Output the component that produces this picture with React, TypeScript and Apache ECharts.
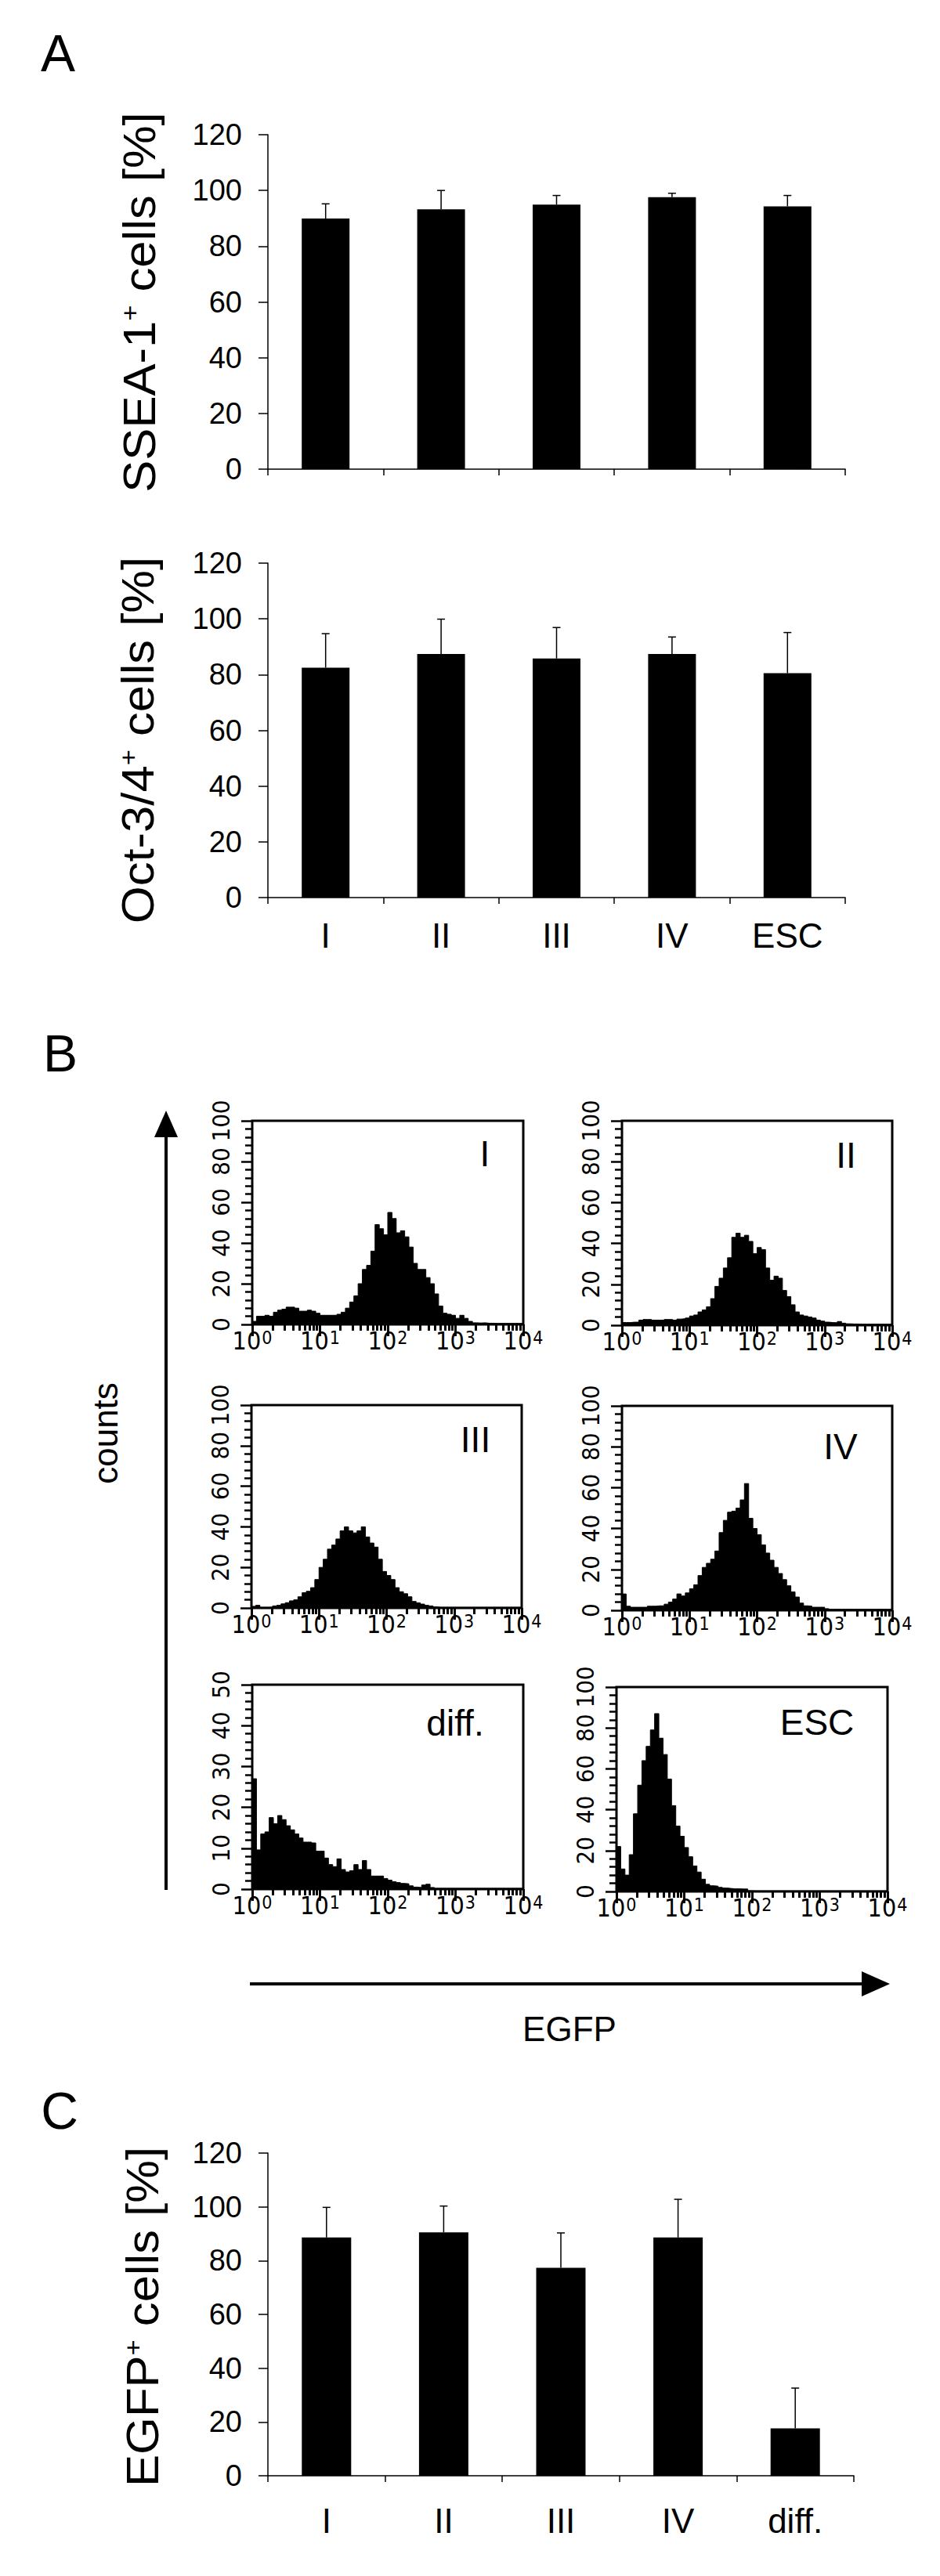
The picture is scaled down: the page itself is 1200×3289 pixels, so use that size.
import React, { useEffect, useRef } from "react";
import * as echarts from "echarts";

// ---------------- data ----------------
const catsA = ["I", "II", "III", "IV", "ESC"];
const ssea1Mean = [89.9, 93.2, 94.9, 97.6, 94.3];
const ssea1Err = [5.3, 6.8, 3.3, 1.4, 3.9];
const oct34Mean = [82.5, 87.4, 85.8, 87.4, 80.5];
const oct34Err = [12.2, 12.5, 11.1, 6.1, 14.6];

const catsC = ["I", "II", "III", "IV", "diff."];
const egfpMean = [88.6, 90.5, 77.3, 88.6, 17.6];
const egfpErr = [11.2, 9.8, 13.0, 14.2, 15.0];

// FACS histograms: 64 bins spanning 10^0 .. 10^4 (16 bins per decade)
const histI = [
  1.5, 4, 4, 4.5, 4, 6, 7, 7.5, 8.5, 8.5, 8, 6.5, 6.5, 7, 6.5, 5.5,
  4.5, 4.5, 4.5, 4.5, 5, 6, 8, 11, 14, 20, 27, 29, 36, 49, 47, 44,
  55, 52, 45, 46, 43, 38, 30, 27, 27, 23, 20, 15, 9, 5.5, 5, 4.5,
  3, 4.5, 3, 1.5, 0.8, 0.7, 0.8, 0.6, 0.6, 0.5, 0.5, 0.5, 0.5, 0.5, 0.5, 0.5,
];
const histII = [
  1.3, 1.3, 1.5, 1.5, 2.5, 2.8, 2.8, 2.5, 2.5, 2.5, 2.8, 2.8, 2.5, 3, 3.2, 3.5,
  4.5, 5, 6.5, 7.5, 9, 13, 19, 23, 28, 33, 43, 45, 43, 44, 41, 35,
  38, 37, 28, 22, 24, 23, 17, 14, 10, 6.5, 5, 4.5, 4, 3.5, 2.5, 2,
  1.5, 1.3, 1.2, 1.8, 1, 0.7, 0.6, 0.6, 0.5, 0.5, 0.5, 0.5, 0.5, 0.5, 0.5, 0.5,
];
const histIII = [
  0.8, 1.3, 0.3, 0.3, 0.4, 1, 1.3, 2, 2.6, 3.5, 4, 5.5, 7.5, 8.2, 10, 14,
  20, 24, 29, 31, 34, 38, 40, 38, 37, 38, 40, 35, 32, 30, 24, 18,
  16, 14, 10, 8, 7, 5.5, 3.2, 2.5, 1.9, 1.3, 1, 0.5, 0.3, 0.3, 0.3, 0.3,
  0.3, 0.3, 0.3, 0.3, 0.3, 0.3, 0.3, 0.3, 0.3, 0.3, 0.3, 0.3, 0.3, 0.3, 0.3, 0.3,
];
const histIV = [
  8, 2, 1.5, 1.5, 1.5, 1.5, 2, 2, 2.2, 2.2, 3, 4, 5.5, 8, 7, 8.5,
  10.5, 12.5, 17, 21, 23, 25, 29, 38, 44, 48, 48.5, 50, 54, 62, 45, 40,
  37, 32, 28, 24.5, 21, 18, 15, 12, 9, 6.5, 3.5, 2.2, 2, 1.5, 1.5, 1.5,
  0.8, 0.5, 0.5, 0.5, 0.5, 0.5, 0.5, 0.5, 0.5, 0.5, 0.5, 0.5, 0.5, 0.5, 0.5, 0.5,
];
const histDiff = [
  27, 9.6, 13.5, 14, 17.5, 16, 18, 17, 15.5, 14.5, 13.5, 12.5, 11.5, 11.5, 11.3, 9.3,
  9.3, 7.6, 6, 5.5, 7.4, 4.8, 4.2, 4.5, 6, 4.8, 7, 4.8, 3.2, 3.2, 3.2, 2.6,
  2.2, 1.8, 1.6, 1.4, 1.3, 0.8, 0.5, 0.4, 1, 1.2, 0.4, 0.2, 0.2, 0.2, 0.2, 0.2,
  0.2, 0.2, 0.2, 0.2, 0.2, 0.2, 0.2, 0.2, 0.2, 0.2, 0.2, 0.2, 0.2, 0.2, 0.2, 0.2,
];
const histESC = [
  22, 11, 8, 18, 38, 52, 64, 71, 79, 87, 75, 67, 55, 42, 32, 27,
  21.5, 17, 12.5, 9.5, 6, 3.5, 2.8, 2.6, 2, 1.7, 1.5, 1.3, 1.3, 1.2, 1.2, 0.4,
  0.3, 0.3, 0.3, 0.3, 0.3, 0.3, 0.3, 0.3, 0.3, 0.3, 0.3, 0.3, 0.3, 0.3, 0.3, 0.3,
  0.3, 0.3, 0.3, 0.3, 0.3, 0.3, 0.3, 0.3, 0.3, 0.3, 0.3, 0.3, 0.3, 0.3, 0.3, 0.3,
];

const decadeTicks = [1, 10, 100, 1000, 10000];
const minorLogTicks = [
  2, 3, 4, 5, 6, 7, 8, 9,
  20, 30, 40, 50, 60, 70, 80, 90,
  200, 300, 400, 500, 600, 700, 800, 900,
  2000, 3000, 4000, 5000, 6000, 7000, 8000, 9000,
];

// ---------------- layout ----------------
const FONT = "'Liberation Sans', Arial, Helvetica, sans-serif";
const NARROW = "'Liberation Sans Narrow', 'Arial Narrow', 'DejaVu Sans Condensed', 'Liberation Sans', sans-serif";

const barPanels = [
  { grid: { left: 342, top: 172, width: 737, height: 427 }, cats: catsA, mean: ssea1Mean, err: ssea1Err, barWidth: 61, labelMargin: 26, showLabels: false },
  { grid: { left: 342, top: 719, width: 737, height: 427 }, cats: catsA, mean: oct34Mean, err: oct34Err, barWidth: 61, labelMargin: 26, showLabels: true },
  { grid: { left: 342, top: 2749, width: 748, height: 412 }, cats: catsC, mean: egfpMean, err: egfpErr, barWidth: 63, labelMargin: 35, showLabels: true },
];

const histPanels = [
  { grid: { left: 322, top: 1431, width: 346, height: 260 }, values: histI, ymax: 100, yint: 20, label: "I", lx: 619, ly: 1473 },
  { grid: { left: 794, top: 1431, width: 345, height: 261 }, values: histII, ymax: 100, yint: 20, label: "II", lx: 1080, ly: 1475 },
  { grid: { left: 321, top: 1794, width: 345, height: 259 }, values: histIII, ymax: 100, yint: 20, label: "III", lx: 607, ly: 1838 },
  { grid: { left: 794, top: 1795, width: 345, height: 261 }, values: histIV, ymax: 100, yint: 20, label: "IV", lx: 1073, ly: 1847 },
  { grid: { left: 322, top: 2151, width: 346, height: 261 }, values: histDiff, ymax: 50, yint: 10, label: "diff.", lx: 581, ly: 2200 },
  { grid: { left: 787, top: 2154, width: 346, height: 261 }, values: histESC, ymax: 100, yint: 20, label: "ESC", lx: 1043, ly: 2199 },
];

function stepData(values: number[]) {
  const n = values.length;
  const pts: number[][] = values.map((v, i) => [Math.pow(10, (4 * i) / n), v]);
  pts.push([10000, values[n - 1]]);
  return pts;
}

function buildOption() {
  const grid: any[] = [];
  const xAxis: any[] = [];
  const yAxis: any[] = [];
  const series: any[] = [];

  barPanels.forEach((p, k) => {
    grid.push({ ...p.grid, containLabel: false });
    xAxis.push({
      type: "category",
      gridIndex: k,
      data: p.cats,
      axisLine: { lineStyle: { color: "#000", width: 1.5 } },
      axisTick: { show: true, length: 8, lineStyle: { color: "#000", width: 1.5 } },
      axisLabel: { show: p.showLabels, color: "#000", fontSize: 44, fontFamily: FONT, margin: p.labelMargin, interval: 0 },
      splitLine: { show: false },
    });
    yAxis.push({
      type: "value",
      gridIndex: k,
      min: 0,
      max: 120,
      interval: 20,
      axisLine: { show: true, lineStyle: { color: "#000", width: 1.5 } },
      axisTick: { show: true, length: 12, lineStyle: { color: "#000", width: 1.5 } },
      axisLabel: { color: "#000", fontSize: 38, fontFamily: FONT, margin: 33 },
      splitLine: { show: false },
    });
    series.push({
      type: "bar",
      xAxisIndex: k,
      yAxisIndex: k,
      data: p.mean,
      barWidth: p.barWidth,
      itemStyle: { color: "#000" },
      silent: true,
    });
    series.push({
      type: "custom",
      xAxisIndex: k,
      yAxisIndex: k,
      z: 5,
      silent: true,
      data: p.mean.map((m, i) => [i, m, p.err[i]]),
      renderItem: (params: any, api: any) => {
        const base = api.coord([api.value(0), api.value(1)]);
        const top = api.coord([api.value(0), api.value(1) + api.value(2)]);
        const st = { stroke: "#000", lineWidth: 1.5 };
        return {
          type: "group",
          children: [
            { type: "line", shape: { x1: base[0], y1: base[1], x2: top[0], y2: top[1] }, style: st },
            { type: "line", shape: { x1: top[0] - 5, y1: top[1], x2: top[0] + 5, y2: top[1] }, style: st },
          ],
        };
      },
    });
  });

  const nb = barPanels.length;
  histPanels.forEach((h, j) => {
    const g = nb + j;
    grid.push({ ...h.grid, show: true, borderColor: "#000", borderWidth: 3, backgroundColor: "transparent" });
    const majorIdx = xAxis.length;
    xAxis.push({
      type: "log",
      logBase: 10,
      gridIndex: g,
      position: "bottom",
      min: 1,
      max: 10000,
      axisLine: { show: false },
      axisTick: { show: true, length: 15, customValues: decadeTicks, lineStyle: { color: "#000", width: 3 } },
      axisLabel: {
        show: true,
        customValues: decadeTicks,
        margin: 5,
        color: "#000",
        formatter: (v: number) => "{m|10}{s|" + Math.round(Math.log10(v)) + "}",
        rich: {
          m: { fontSize: 32, lineHeight: 32, fontFamily: NARROW, color: "#000", verticalAlign: "bottom" },
          s: { fontSize: 23, lineHeight: 23, fontFamily: NARROW, color: "#000", verticalAlign: "top", padding: [0, 0, 26, 1] },
        },
      },
      splitLine: { show: false },
    });
    xAxis.push({
      type: "log",
      logBase: 10,
      gridIndex: g,
      position: "bottom",
      min: 1,
      max: 10000,
      axisLine: { show: false },
      axisTick: { show: true, length: 8, customValues: minorLogTicks, lineStyle: { color: "#000", width: 3 } },
      axisLabel: { show: false },
      splitLine: { show: false },
    });
    const yIdx = yAxis.length;
    yAxis.push({
      type: "value",
      gridIndex: g,
      min: 0,
      max: h.ymax,
      interval: h.yint,
      axisLine: { show: false },
      axisTick: { show: true, length: 14, lineStyle: { color: "#000", width: 2.5 } },
      minorTick: { show: true, splitNumber: 5, length: 9, lineStyle: { color: "#000", width: 2.5 } },
      axisLabel: { rotate: 90, color: "#000", fontSize: 31, fontFamily: NARROW, margin: 25 },
      splitLine: { show: false },
      minorSplitLine: { show: false },
    });
    series.push({
      type: "line",
      xAxisIndex: majorIdx,
      yAxisIndex: yIdx,
      data: stepData(h.values),
      step: "end",
      symbol: "none",
      silent: true,
      lineStyle: { color: "#000", width: 1 },
      areaStyle: { color: "#000", opacity: 1 },
    });
  });

  const txt = (text: string, x: number, y: number, size: number, extra: any = {}) => ({
    type: "text",
    x,
    y,
    silent: true,
    style: { text, fontSize: size, fontFamily: FONT, fill: "#000", align: "center", verticalAlign: "middle", ...extra },
  });

  const richTitle = (main: string, after: string) => ({
    text: "{m|" + main + "}{s|+}{m|" + after + "}",
    rich: {
      m: { fontSize: 57, lineHeight: 57, fontFamily: FONT, fill: "#000" },
      s: { fontSize: 32, lineHeight: 32, fontFamily: FONT, fill: "#000", verticalAlign: "top" },
    },
  });

  const graphic: any[] = [
    txt("A", 74, 68, 66),
    txt("B", 77, 1345, 66),
    txt("C", 76, 2695, 66),
    { type: "text", x: 178, y: 386, rotation: Math.PI / 2, scaleX: 1.08, silent: true, style: { ...richTitle("SSEA-1", " cells [%]"), align: "center", verticalAlign: "middle" } },
    { type: "text", x: 176, y: 945, rotation: Math.PI / 2, scaleX: 1.08, silent: true, style: { ...richTitle("Oct-3/4", " cells [%]"), align: "center", verticalAlign: "middle" } },
    { type: "text", x: 182, y: 2958, rotation: Math.PI / 2, scaleX: 1.08, silent: true, style: { ...richTitle("EGFP", " cells [%]"), align: "center", verticalAlign: "middle" } },
    // counts arrow
    { type: "line", silent: true, shape: { x1: 212, y1: 2413, x2: 212, y2: 1450 }, style: { stroke: "#000", lineWidth: 4 } },
    { type: "polygon", silent: true, shape: { points: [[212, 1418], [197, 1452], [227, 1452]] }, style: { fill: "#000" } },
    { type: "text", x: 134, y: 1830, rotation: Math.PI / 2, silent: true, style: { text: "counts", fontSize: 44, fontFamily: FONT, fill: "#000", align: "center", verticalAlign: "middle" } },
    // EGFP arrow
    { type: "line", silent: true, shape: { x1: 319, y1: 2533, x2: 1102, y2: 2533 }, style: { stroke: "#000", lineWidth: 4 } },
    { type: "polygon", silent: true, shape: { points: [[1136, 2533], [1100, 2517], [1100, 2549]] }, style: { fill: "#000" } },
    txt("EGFP", 727, 2590, 44),
  ];
  histPanels.forEach((h) => graphic.push(txt(h.label, h.lx, h.ly, 46)));

  return {
    animation: false,
    backgroundColor: "#fff",
    textStyle: { fontFamily: FONT },
    grid,
    xAxis,
    yAxis,
    series,
    graphic,
  };
}

export default function App() {
  const ref = useRef<HTMLDivElement>(null);
  useEffect(() => {
    document.body.style.margin = "0";
    if (!ref.current) return;
    const chart = echarts.init(ref.current, null, { renderer: "svg", width: 1200, height: 3289 });
    chart.setOption(buildOption() as any);
    return () => chart.dispose();
  }, []);
  return <div ref={ref} style={{ width: 1200, height: 3289 }} />;
}
